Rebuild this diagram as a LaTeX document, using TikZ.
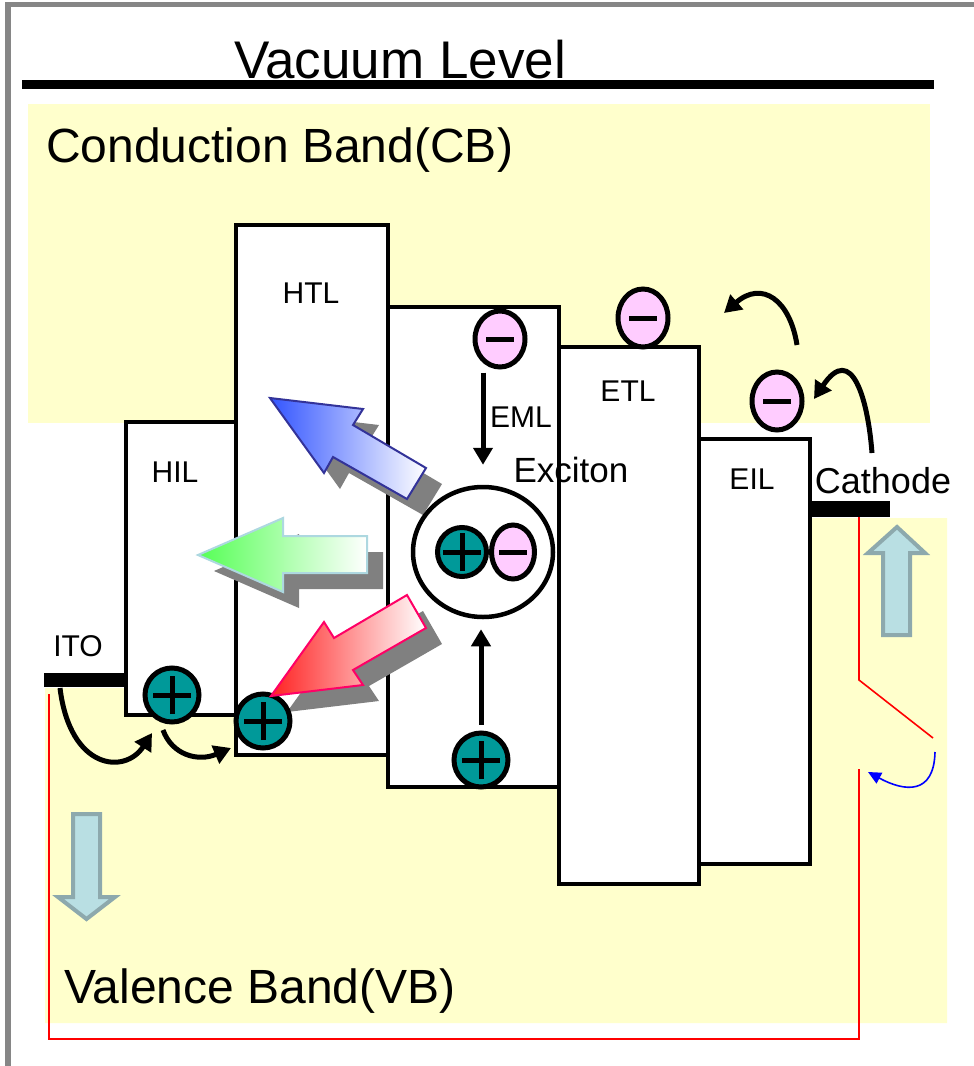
\documentclass[tikz,border=0pt]{standalone}
\usepackage{fontspec}
\setmainfont{Liberation Sans}
\usetikzlibrary{arrows.meta,shapes.geometric,calc}
\definecolor{bandyellow}{HTML}{FFFFCC}
\definecolor{holeteal}{HTML}{009999}
\definecolor{elpink}{HTML}{FFCCFF}
\definecolor{bordergray}{HTML}{868686}
\definecolor{blkfill}{HTML}{B9DFE3}
\definecolor{blkline}{HTML}{8DA9AD}
\definecolor{shadowgray}{HTML}{808080}
\definecolor{bluestroke}{HTML}{333399}
\definecolor{bluetip}{HTML}{3355FF}
\definecolor{greenstroke}{HTML}{ADD8E0}
\definecolor{greentip}{HTML}{55FF55}
\definecolor{redstroke}{HTML}{FF0066}
\definecolor{redtip}{HTML}{FF2222}
\begin{document}
\begin{tikzpicture}[x=1pt,y=-1pt,
  layer/.style={draw=black, line width=3.5pt, fill=white, inner sep=0pt, anchor=north west},
  lbl/.style={font=\fontsize{30}{36}\selectfont, anchor=base, inner sep=0pt},
  bigl/.style={font=\fontsize{48}{56}\selectfont, anchor=base west, inner sep=0pt},
  bar/.style={fill=black, inner sep=0pt, anchor=north west},
  hole/.style={circle, draw=black, line width=5pt, fill=holeteal, minimum size=54pt, inner sep=0pt,
    path picture={\draw[line width=5pt] ([xshift=-19pt]path picture bounding box.center) -- ([xshift=19pt]path picture bounding box.center)
      ([yshift=-19pt]path picture bounding box.center) -- ([yshift=19pt]path picture bounding box.center);}},
  electron/.style={ellipse, draw=black, line width=5pt, fill=elpink, minimum width=50pt, minimum height=56pt, inner sep=0pt,
    path picture={\draw[line width=5pt] ([xshift=-14pt]path picture bounding box.center) -- ([xshift=14pt]path picture bounding box.center);}},
  carrow/.style={line width=5pt, -{Triangle[length=17pt,width=19pt]}},
  wire/.style={draw=red, line width=1.6pt},
  blockarrow/.style={draw=blkline, fill=blkfill, line width=4pt},
  shadowfill/.style={fill=shadowgray},
  bluepath/.style={insert path={(270,398) -- (363,409) -- (353,425) -- (426,468) -- (407,499) -- (333,457) -- (324,473) -- cycle}},
  greenpath/.style={insert path={(198,555) -- (283,518) -- (283,536) -- (367,536) -- (367,573) -- (283,573) -- (283,592) -- cycle}},
  redpath/.style={insert path={(271,696) -- (324,622) -- (334,638) -- (407,595) -- (426,628) -- (353,670) -- (363,685) -- cycle}}
]
\useasboundingbox (0,0) rectangle (974,1066);
\fill[white] (0,0) rectangle (974,1066);
% bands
\fill[bandyellow] (28,104) rectangle (930,423);
\fill[bandyellow] (45,688) -- (124,688) -- (124,518) -- (947,518) -- (947,1023) -- (45,1023) -- cycle;
% frame
\draw[bordergray, line width=5.5pt] (8,1066) -- (8,4.5) -- (974,4.5);
% vacuum level bar
\node[bar, minimum width=912pt, minimum height=9pt] (vac) at (22,80) {};
% layers
\node[layer, minimum width=110pt, minimum height=293pt] (HIL) at (124,420) {};
\node[layer, minimum width=152pt, minimum height=530pt] (HTL) at (234,223) {};
\node[layer, minimum width=171pt, minimum height=480pt] (EML) at (386,305) {};
\node[layer, minimum width=140pt, minimum height=537pt] (ETL) at (557,345) {};
\node[layer, minimum width=111pt, minimum height=425pt] (EIL) at (697,437) {};
% electrodes
\node[bar, minimum width=80pt, minimum height=14pt] (ito) at (44,673) {};
\node[bar, minimum width=82pt, minimum height=16pt] (cath) at (808,501) {};
% circuit
\coordinate (w1) at (859,517);
\coordinate (w2) at (859,680);
\coordinate (w3) at (933,738);
\coordinate (w4) at (859,769);
\coordinate (w5) at (859,1039);
\coordinate (w6) at (49,1039);
\coordinate (w7) at (49,694);
\draw[wire] (w1) -- (w2) -- (w3);
\draw[wire] (w4) -- (w5) -- (w6) -- (w7);
\coordinate (b1) at (935,752);
\coordinate (b2) at (868,772);
\draw[blue, line width=1.6pt, -{Triangle[length=13pt,width=12pt]}] (b1) .. controls (934,795) and (905,792) .. (b2);
% light block arrows
\path[blockarrow] (897,527) -- (925,553) -- (910,553) -- (910,635) -- (883,635) -- (883,553) -- (868,553) -- cycle;
\path[blockarrow] (73,814) -- (100,814) -- (100,897) -- (115,897) -- (86.5,919) -- (58,897) -- (73,897) -- cycle;
% shadows of emission arrows
\begin{scope}[shift={(16,16)}]
  \fill[shadowfill, bluepath];
  \fill[shadowfill, greenpath];
  \fill[shadowfill, redpath];
\end{scope}
% exciton
\node[ellipse, draw=black, line width=4.5pt, fill=white, minimum width=140pt, minimum height=130pt] (exc) at (483,552) {};
\node[hole, minimum size=49pt] (xh) at (462,552) {};
\node[electron, minimum width=43pt, minimum height=54pt] (xe) at (513,552) {};
% carriers
\node[hole] (h1) at (172,695) {};
\node[hole] (h2) at (263,721) {};
\node[hole] (h3) at (481,760) {};
\node[electron] (e1) at (500,339) {};
\node[electron, minimum height=58pt] (e2) at (643,318) {};
\node[electron, minimum height=58pt] (e3) at (777,401) {};
% emission arrows
\path[draw=bluestroke, line width=2pt, left color=bluetip, right color=white, bluepath];
\path[draw=greenstroke, line width=2pt, left color=greentip, right color=white, greenpath];
\path[draw=redstroke, line width=2pt, left color=redtip, right color=white, redpath];
% carrier motion arrows
\draw[carrow, shorten <=3pt, shorten >=20pt] (e1.south -| exc.north) -- (exc.north);
\draw[carrow, shorten <=6pt, shorten >=10pt] (h3.north) -- (h3.north |- exc.south);
\coordinate (c1) at (60,688);
\coordinate (c2) at (152,733);
\draw[carrow] (c1) .. controls (70,770) and (125,775) .. (c2);
\coordinate (c3) at (163,730);
\coordinate (c4) at (231,748);
\draw[carrow] (c3) .. controls (172,755) and (198,762) .. (c4);
\coordinate (c5) at (872,453);
\coordinate (c6) at (814,399);
\draw[carrow] (c5) .. controls (868,400) and (852,342) .. (c6);
\coordinate (c7) at (797,345);
\coordinate (c8) at (724,313);
\draw[carrow] (c7) .. controls (790,300) and (762,280) .. (c8);
% texts
\node[font=\fontsize{53}{60}\selectfont, anchor=base, inner sep=0pt] (vact) at (400,78) {Vacuum Level};
\node[bigl] (cbt) at (46,162) {Conduction Band(CB)};
\node[bigl] (vbt) at (64,1003) {Valence Band(VB)};
\node[lbl] (hilt) at (175,482) {HIL};
\node[lbl] (htlt) at (311,303) {HTL};
\node[lbl] (emlt) at (521,427) {EML};
\node[lbl] (etlt) at (628,401) {ETL};
\node[lbl] (eilt) at (752,489) {EIL};
\node[lbl] (itot) at (78,656) {ITO};
\node[lbl, font=\fontsize{36}{42}\selectfont] (catht) at (883,493) {Cathode};
\node[lbl, font=\fontsize{35}{42}\selectfont] (exct) at (571,482) {Exciton};
\end{tikzpicture}
\end{document}
